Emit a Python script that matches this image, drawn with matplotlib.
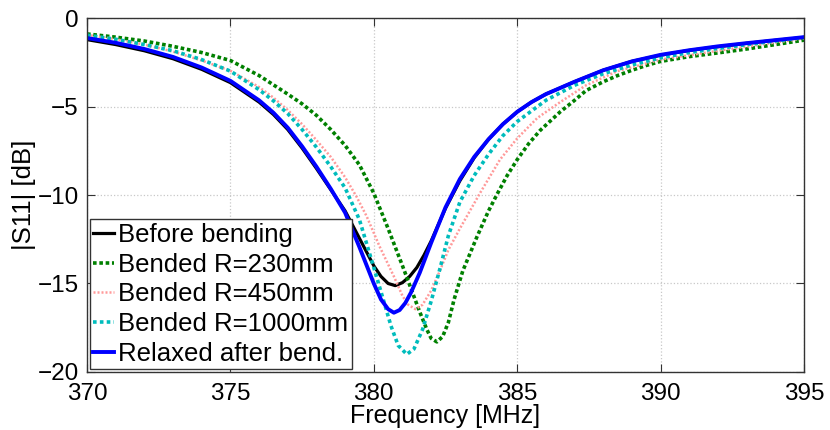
import matplotlib
matplotlib.use("Agg")
import matplotlib.pyplot as plt

plt.rcParams['font.family'] = ['Liberation Sans', 'DejaVu Sans']

# values (frequency in MHz, |S11| in dB)
f_before = [370, 371, 372, 373, 374, 375, 376, 376.5, 377, 377.5, 378, 378.5, 379, 379.5, 380,
            380.25, 380.5, 380.75, 381.0, 381.25, 381.5, 381.75, 382, 382.5, 383, 383.5, 384,
            384.5, 385, 385.5, 386, 386.5, 387, 388, 389, 390, 391, 392, 393, 394, 395]
s_before = [-1.22, -1.5, -1.85, -2.3, -2.9, -3.65, -4.75, -5.45, -6.3, -7.35, -8.5, -9.7, -10.9, -12.45, -14.0,
            -14.6, -15.0, -15.12, -14.95, -14.6, -14.1, -13.4, -12.6, -10.75, -9.2, -7.9, -6.85,
            -6.0, -5.3, -4.75, -4.3, -3.95, -3.6, -2.95, -2.45, -2.1, -1.83, -1.62, -1.43, -1.26, -1.1]

f_r230 = [370, 371, 372, 373, 374, 375, 376, 377, 377.5, 378, 378.5, 379, 379.5, 380, 380.5,
          381, 381.3, 381.6, 381.85, 382.0, 382.2, 382.4, 382.6, 382.8, 383.1, 383.6, 384,
          384.3, 384.65, 385, 385.4, 385.8, 386.2, 386.5, 387, 387.4, 388, 388.5, 389,
          389.5, 390, 391, 392, 393, 394, 395]
s_r230 = [-0.9, -1.08, -1.3, -1.6, -1.95, -2.4, -3.25, -4.3, -4.85, -5.5, -6.3, -7.2, -8.3, -9.9, -11.9,
          -14.0, -15.3, -16.6, -17.6, -18.1, -18.3, -18.0, -17.2, -15.9, -14.3, -12.35, -10.9,
          -9.95, -8.9, -8.0, -7.1, -6.35, -5.75, -5.3, -4.65, -4.1, -3.6, -3.25, -2.95,
          -2.68, -2.45, -2.18, -1.97, -1.75, -1.5, -1.25]

f_r450 = [370, 371, 372, 373, 374, 375, 376, 376.5, 377, 377.5, 378, 378.5, 379, 379.4, 379.75,
          380.2, 380.7, 381.0, 381.2, 381.45, 381.7, 382.0, 382.3, 382.6, 383, 383.7, 384.4,
          385, 385.7, 386.5, 387.4, 388.5, 390, 391, 392, 393.5, 395]
s_r450 = [-0.95, -1.2, -1.5, -1.9, -2.4, -2.98, -3.9, -4.5, -5.2, -6.0, -6.9, -7.85, -9.0, -10.1, -11.2,
          -12.9, -14.6, -15.7, -16.2, -16.45, -16.2, -15.4, -14.3, -13.1, -11.9, -9.9, -8.0,
          -6.8, -5.65, -4.75, -3.8, -3.0, -2.35, -2.1, -1.85, -1.5, -1.15]

f_r1000 = [370, 371, 372, 373, 374, 375, 376, 376.5, 377, 377.5, 378, 378.5, 379, 379.5, 380,
           380.33, 380.6, 380.85, 381.15, 381.4, 381.7, 382.0, 382.3, 382.6, 383, 383.5, 384,
           384.5, 385, 386, 387, 388, 389, 390, 391, 392, 393.5, 395]
s_r1000 = [-0.97, -1.2, -1.5, -1.85, -2.35, -3.0, -4.05, -4.68, -5.4, -6.3, -7.3, -8.4, -9.6, -11.4, -14.1,
           -15.9, -17.4, -18.5, -19.0, -18.7, -17.6, -16.0, -14.2, -12.3, -10.4, -8.9, -7.7,
           -6.65, -5.85, -4.65, -3.8, -3.15, -2.65, -2.25, -1.95, -1.72, -1.4, -1.1]

f_relaxed = [370, 371, 372, 373, 374, 375, 376, 376.5, 377, 377.5, 378, 378.5, 379, 379.5, 380,
             380.25, 380.5, 380.7, 380.9, 381.1, 381.3, 381.6, 382, 382.5, 383, 383.5, 384,
             384.5, 385, 385.5, 386, 386.5, 387, 388, 389, 390, 391, 392, 393, 394, 395]
s_relaxed = [-1.13, -1.4, -1.75, -2.2, -2.8, -3.55, -4.65, -5.35, -6.2, -7.25, -8.4, -9.65, -11.0, -12.95, -15.0,
             -15.9, -16.45, -16.65, -16.5, -16.1, -15.5, -14.4, -12.7, -10.7, -9.1, -7.85, -6.85,
             -6.0, -5.3, -4.75, -4.3, -3.95, -3.6, -2.95, -2.45, -2.08, -1.82, -1.6, -1.42, -1.25, -1.08]

labels = ['Before bending', 'Bended R=230mm', 'Bended R=450mm',
          'Bended R=1000mm', 'Relaxed after bend.']

fig = plt.figure(figsize=(8.3, 4.3), dpi=100)
ax = fig.add_axes([0.1048, 0.1349, 0.8639, 0.8232])

ax.plot(f_before, s_before, color='black', lw=2.3, label=labels[0])
ax.plot(f_r230, s_r230, color=(0, 0.5, 0), lw=2.6, linestyle=(0, (1, 0.75)),
        dash_capstyle='butt', label=labels[1])
ax.plot(f_r450, s_r450, color='#ff9a9a', lw=1.8, linestyle=(0, (0.8, 0.8)),
        dash_capstyle='butt', label=labels[2])
ax.plot(f_r1000, s_r1000, color='#00bcbc', lw=2.6, linestyle=(0, (1, 0.9)),
        dash_capstyle='butt', label=labels[3])
ax.plot(f_relaxed, s_relaxed, color='blue', lw=2.8, label=labels[4])

ax.set_xlim(370, 395)
ax.set_ylim(-20, 0)
ax.set_xticks([370, 375, 380, 385, 390, 395])
ax.set_yticks([-20, -15, -10, -5, 0])
ax.grid(True, linestyle=':', color='#c8c8c8', lw=0.9)
ax.tick_params(direction='in', length=6, width=0.8, top=True, right=True,
               labelsize=17.5, colors='#333333', labelcolor='black')
ax.tick_params(axis='x', pad=8)
ax.tick_params(axis='y', pad=6)
for sp in ax.spines.values():
    sp.set_color('#333333')
    sp.set_linewidth(1.0)

ax.set_xlabel('Frequency [MHz]', fontsize=18, labelpad=-1)
ax.set_ylabel('|S11| [dB]', fontsize=18.5, labelpad=1)

leg = ax.legend(loc='lower left', fontsize=18.5, handlelength=0.8, handletextpad=0.15,
                labelspacing=0.22, borderpad=0.15, borderaxespad=0.1,
                fancybox=False, framealpha=1, edgecolor='#333333')
leg.get_frame().set_linewidth(1.0)

fig.savefig('out.png', dpi=100)
